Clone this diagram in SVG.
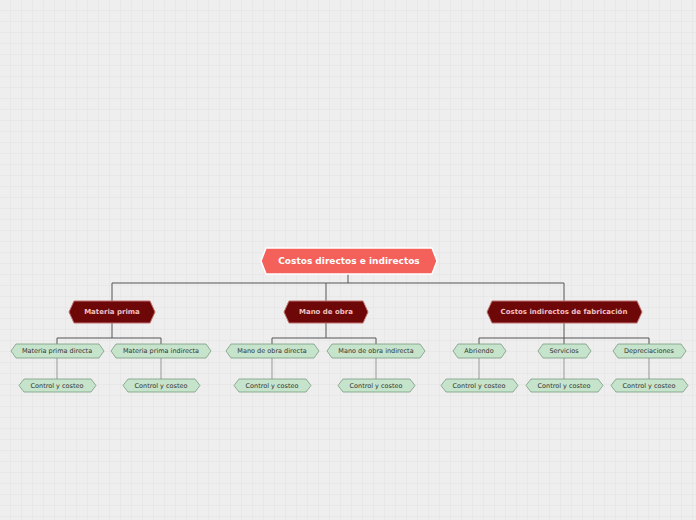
<svg xmlns="http://www.w3.org/2000/svg" width="696" height="520" viewBox="0 0 696 520">
<defs>
<pattern id="g" width="11" height="11" patternUnits="userSpaceOnUse"><path d="M11 0V11H0" fill="none" stroke="#e2e2e2" stroke-width="1"/></pattern>
<style>
text{font-family:"DejaVu Sans",sans-serif;text-anchor:middle;dominant-baseline:central}
.r polygon{fill:#f4605a;stroke:#fff;stroke-width:1.5}.r text{fill:#fff;font-size:9px;font-weight:bold}
.m polygon{fill:#6e0708;stroke:#c07070;stroke-width:1}.m text{fill:#f0c0c0;font-size:7px;font-weight:bold}
.s polygon{fill:#c6e4cb;stroke:#7a9a80;stroke-width:0.8}.s text{fill:#333;font-size:6.5px}
.c path{fill:none;stroke-width:1}
</style>
</defs>
<rect width="696" height="520" fill="#eeeeee"/>
<rect width="696" height="520" fill="url(#g)"/>
<g class="c">
<path d="M348 274V283M112 301V283H564V301M326 283V301" stroke="#555"/>
<path d="M112 323V338M57 344V338H161V344M326 323V338M272 344V338H376V344M564 323V338M479 344V338H649V344M564 338V344" stroke="#555"/>
<path d="M57 358V379M161 358V379M272 358V379M376 358V379M479 358V379M564 358V379M649 358V379" stroke="#999"/>
</g>
<g id="root" class="r"><polygon points="266,248 432,248 437,261 432,274 266,274 261,261"/><text x="349" y="261">Costos directos e indirectos</text></g>
<g id="n1" class="m"><polygon points="74,301 150,301 155,312 150,323 74,323 69,312"/><text x="112" y="312">Materia prima</text></g>
<g id="n2" class="m"><polygon points="289,301 363,301 368,312 363,323 289,323 284,312"/><text x="326" y="312">Mano de obra</text></g>
<g id="n3" class="m"><polygon points="492,301 637,301 642,312 637,323 492,323 487,312"/><text x="564" y="312">Costos indirectos de fabricación</text></g>
<g id="a1" class="s"><polygon points="16,344 99,344 104,351 99,358 16,358 11,351"/><text x="57" y="351">Materia prima directa</text></g>
<g id="a2" class="s"><polygon points="116,344 206,344 211,351 206,358 116,358 111,351"/><text x="161" y="351">Materia prima indirecta</text></g>
<g id="a3" class="s"><polygon points="231,344 314,344 319,351 314,358 231,358 226,351"/><text x="272" y="351">Mano de obra directa</text></g>
<g id="a4" class="s"><polygon points="332,344 420,344 425,351 420,358 332,358 327,351"/><text x="376" y="351">Mano de obra indirecta</text></g>
<g id="a5" class="s"><polygon points="458,344 501,344 506,351 501,358 458,358 453,351"/><text x="479" y="351">Abriendo</text></g>
<g id="a6" class="s"><polygon points="543,344 586,344 591,351 586,358 543,358 538,351"/><text x="564" y="351">Servicios</text></g>
<g id="a7" class="s"><polygon points="618,344 681,344 686,351 681,358 618,358 613,351"/><text x="649" y="351">Depreciaciones</text></g>
<g id="b1" class="s"><polygon points="24,379 91,379 96,385.5 91,392 24,392 19,385.5"/><text x="57" y="385.5">Control y costeo</text></g>
<g id="b2" class="s"><polygon points="128,379 195,379 200,385.5 195,392 128,392 123,385.5"/><text x="161" y="385.5">Control y costeo</text></g>
<g id="b3" class="s"><polygon points="239,379 306,379 311,385.5 306,392 239,392 234,385.5"/><text x="272" y="385.5">Control y costeo</text></g>
<g id="b4" class="s"><polygon points="343,379 410,379 415,385.5 410,392 343,392 338,385.5"/><text x="376" y="385.5">Control y costeo</text></g>
<g id="b5" class="s"><polygon points="446,379 513,379 518,385.5 513,392 446,392 441,385.5"/><text x="479" y="385.5">Control y costeo</text></g>
<g id="b6" class="s"><polygon points="531,379 598,379 603,385.5 598,392 531,392 526,385.5"/><text x="564" y="385.5">Control y costeo</text></g>
<g id="b7" class="s"><polygon points="616,379 683,379 688,385.5 683,392 616,392 611,385.5"/><text x="649" y="385.5">Control y costeo</text></g>
</svg>
